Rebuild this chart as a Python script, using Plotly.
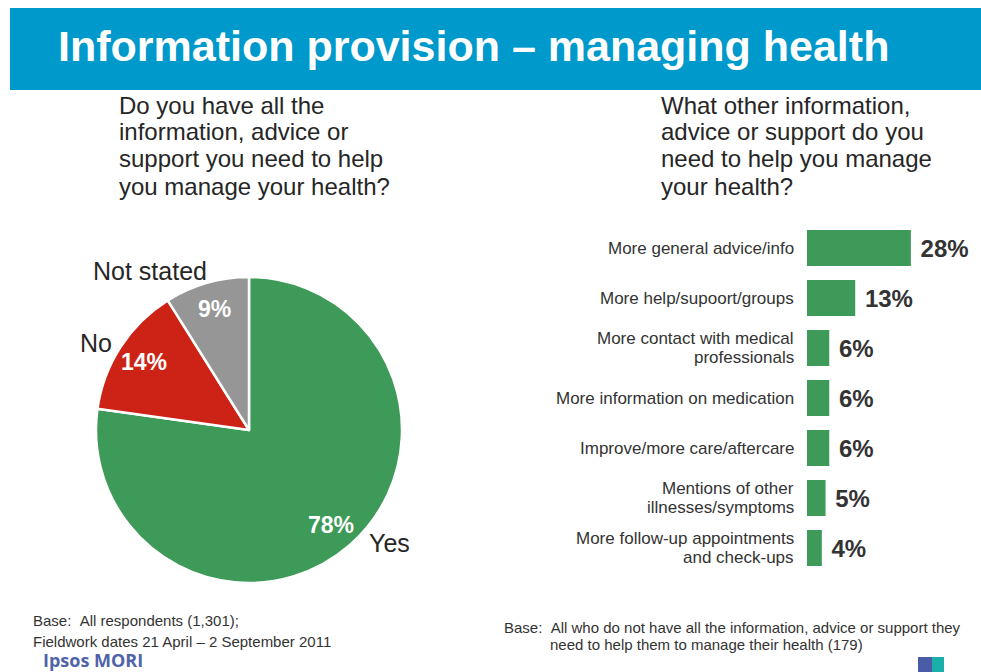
import math
import plotly.graph_objects as go

# ---------------- data ----------------
pie_labels = ["Yes", "No", "Not stated"]
pie_values = [78, 14, 9]
pie_colors = ["#3D9A58", "#CC2316", "#969696"]

bar_categories = [
    "More general advice/info",
    "More help/supoort/groups",
    "More contact with medical<br>professionals",
    "More information on medication",
    "Improve/more care/aftercare",
    "Mentions of other<br>illnesses/symptoms",
    "More follow-up appointments<br>and check-ups",
]
bar_values = [28, 13, 6, 6, 6, 5, 4]

title_text = "Information provision \u2013 managing health"
left_question = ["Do you have all the", "information, advice or",
                 "support you need to help", "you manage your health?"]
right_question = ["What other information,", "advice or support do you",
                  "need to help you manage", "your health?"]
left_base = ["Base:  All respondents (1,301);",
             "Fieldwork dates 21 April \u2013 2 September 2011"]
right_base = ["Base:  All who do not have all the information, advice or support they",
              "need to help them to manage their health (179)"]
brand = "Ipsos MORI"

# ---------------- helpers ----------------
W, H = 981, 672
def px(x):
    return x / W
def py(y):
    return 1 - y / H

FONT = "Liberation Sans, Arial, sans-serif"
DARK = "#262626"

fig = go.Figure()

# pie
pie_x = [px(96), px(402)]
pie_y = [py(583), py(277)]
fig.add_trace(go.Pie(
    labels=pie_labels, values=pie_values, sort=False, direction="clockwise",
    rotation=0, marker=dict(colors=pie_colors, line=dict(color="white", width=2.5)),
    textinfo="none", hoverinfo="label+percent", showlegend=False,
    domain=dict(x=pie_x, y=pie_y),
))

# bars
fig.add_trace(go.Bar(
    x=bar_values, y=bar_categories, orientation="h",
    marker=dict(color="#3D9A58", line=dict(width=0)),
    texttemplate="<b> %{x}%</b>", textposition="outside",
    textfont=dict(family=FONT, size=24, color="#333333"),
    constraintext="none", cliponaxis=False, showlegend=False,
    hoverinfo="x+y",
))

annotations = []
shapes = []

# title bar
shapes.append(dict(type="rect", xref="paper", yref="paper",
                   x0=px(10), x1=1, y0=py(90), y1=py(8),
                   fillcolor="#0099CC", line=dict(width=0), layer="below"))
annotations.append(dict(text="<b>" + title_text + "</b>", xref="paper", yref="paper",
                        x=px(56), y=py(46), xanchor="left", yanchor="middle",
                        showarrow=False, font=dict(family=FONT, size=43, color="white")))

# questions (one annotation per line)
for i, line in enumerate(left_question):
    annotations.append(dict(text=line, xref="paper", yref="paper",
                            x=px(117), y=py(105 + i * 27), xanchor="left", yanchor="middle",
                            showarrow=False, font=dict(family=FONT, size=24, color=DARK)))
for i, line in enumerate(right_question):
    annotations.append(dict(text=line, xref="paper", yref="paper",
                            x=px(659), y=py(105 + i * 27), xanchor="left", yanchor="middle",
                            showarrow=False, font=dict(family=FONT, size=24, color=DARK)))

# pie percentage labels, placed along each slice's middle angle
cx = (pie_x[0] + pie_x[1]) / 2 * W
cy = (1 - (pie_y[0] + pie_y[1]) / 2) * H
R = (pie_x[1] - pie_x[0]) * W / 2
total = sum(pie_values)
cum = 0
for lab, v in zip(pie_labels, pie_values):
    mid = (cum + v / 2) / total * 2 * math.pi
    cum += v
    r = 0.82 * R
    x = cx + r * math.sin(mid)
    y = cy - r * math.cos(mid)
    annotations.append(dict(text="<b>%d%%</b>" % v, xref="paper", yref="paper",
                            x=px(x), y=py(y), xanchor="center", yanchor="middle",
                            showarrow=False, font=dict(family=FONT, size=23, color="white")))

# pie category labels (outside)
outer_pos = {"Yes": (367, 543, "left"), "No": (96, 343, "center"),
             "Not stated": (150, 271, "center")}
for lab in pie_labels:
    x, y, anc = outer_pos[lab]
    annotations.append(dict(text=lab, xref="paper", yref="paper",
                            x=px(x), y=py(y), xanchor=anc, yanchor="middle",
                            showarrow=False, font=dict(family=FONT, size=25, color=DARK)))

# bar category labels (tight multi-line)
for cat in bar_categories:
    lines = cat.split("<br>")
    n = len(lines)
    for i, line in enumerate(lines):
        annotations.append(dict(text=line, xref="paper", yref="y",
                                x=px(796), y=cat, xanchor="right", yanchor="middle",
                                yshift=((n - 1) / 2 - i) * 19,
                                showarrow=False, font=dict(family=FONT, size=17, color="#333333")))

# footers
for i, line in enumerate(left_base):
    annotations.append(dict(text=line.replace("  ", "&nbsp;&nbsp;"), xref="paper", yref="paper",
                            x=px(31), y=py(620 + i * 21), xanchor="left", yanchor="middle",
                            showarrow=False, font=dict(family=FONT, size=15, color="#333333")))
for i, line in enumerate(right_base):
    annotations.append(dict(text=line.replace("  ", "&nbsp;&nbsp;"), xref="paper", yref="paper",
                            x=px(502 if i == 0 else 548), y=py(627.5 + i * 17), xanchor="left",
                            yanchor="middle", showarrow=False,
                            font=dict(family=FONT, size=15, color="#333333")))
annotations.append(dict(text="<b>" + brand + "</b>", xref="paper", yref="paper",
                        x=px(41), y=py(660), xanchor="left", yanchor="middle",
                        showarrow=False, font=dict(family="Open Sans, sans-serif", size=18, color="#4F63A8")))

# small logo
shapes.append(dict(type="rect", xref="paper", yref="paper", x0=px(918), x1=px(932),
                   y0=0, y1=py(657), fillcolor="#4A5BA8", line=dict(width=0)))
shapes.append(dict(type="rect", xref="paper", yref="paper", x0=px(932), x1=px(944),
                   y0=0, y1=py(657), fillcolor="#1AAFA8", line=dict(width=0)))

fig.update_layout(
    width=W, height=H, margin=dict(l=0, r=0, t=0, b=0),
    paper_bgcolor="white", plot_bgcolor="white",
    bargap=0.28,
    xaxis=dict(domain=[px(807), 1], range=[0, (W - 807) / 3.71],
               showgrid=False, zeroline=False, showline=False,
               showticklabels=False, ticks="", fixedrange=True),
    yaxis=dict(domain=[py(573), py(223)], categoryorder="array",
               categoryarray=bar_categories, autorange="reversed",
               showgrid=False, zeroline=False, showline=False,
               showticklabels=False, ticks="", fixedrange=True),
    annotations=annotations, shapes=shapes,
    font=dict(family=FONT),
)

fig.write_html("out.html", config={"displayModeBar": False},
               post_script="document.body.style.margin='0';document.body.style.overflow='hidden';")
